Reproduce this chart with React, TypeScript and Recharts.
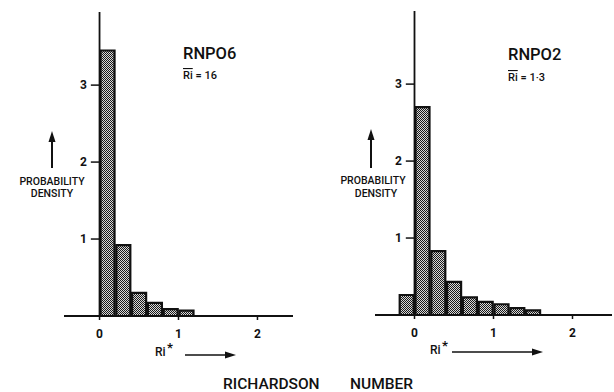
import { BarChart, Bar, XAxis, YAxis, ReferenceLine } from 'recharts';

// Richardson number histograms for the two runs (bins of width 0.2)
const binWidth = 0.2;
const binStartsRNP06 = [0, 0.2, 0.4, 0.6, 0.8, 1.0];
const densityRNP06 = [3.45, 0.92, 0.3, 0.17, 0.09, 0.07];
const binStartsRNP02 = [-0.2, 0, 0.2, 0.4, 0.6, 0.8, 1.0, 1.2, 1.4];
const densityRNP02 = [0.26, 2.7, 0.83, 0.43, 0.23, 0.17, 0.14, 0.09, 0.06];
const xTicks = [0, 1, 2];
const yTicks = [1, 2, 3];
const yMax = 3.95;

const FONT = 'Roboto, "Liberation Sans", sans-serif';

const toRows = (starts: number[], values: number[]) =>
  starts.map((s, i) => ({ mid: +(s + binWidth / 2).toFixed(2), density: values[i] }));

interface PanelProps {
  id: string;
  starts: number[];
  values: number[];
  xDomain: [number, number];
  width: number;
  margin: { top: number; right: number; bottom: number; left: number };
}

function Panel({ id, starts, values, xDomain, width, margin }: PanelProps) {
  const data = toRows(starts, values);
  return (
    <BarChart width={width} height={340} data={data} margin={margin} barCategoryGap={1}>
      <defs>
        <pattern id={id} width={2} height={2} patternUnits="userSpaceOnUse">
          <rect width={2} height={2} fill="#d8d8d8" />
          <rect width={1} height={1} fill="#1a1a1a" />
          <rect x={1} y={1} width={1} height={1} fill="#1a1a1a" />
        </pattern>
      </defs>
      <XAxis
        dataKey="mid"
        type="number"
        domain={xDomain}
        ticks={xTicks}
        allowDataOverflow
        height={20}
        tickSize={4}
        tickMargin={9}
        axisLine={{ stroke: '#111', strokeWidth: 1.8 }}
        tickLine={{ stroke: '#111', strokeWidth: 1.5 }}
        tick={{ fill: '#111', fontSize: 12, fontWeight: 700, fontFamily: FONT }}
      />
      <YAxis hide type="number" domain={[0, yMax]} allowDataOverflow />
      <ReferenceLine x={0} stroke="#111" strokeWidth={1.8} />
      {yTicks.map((t) => (
        <ReferenceLine
          key={t}
          segment={[{ x: -0.11, y: t }, { x: 0, y: t }]}
          stroke="#111"
          strokeWidth={1.5}
          label={{ value: t, position: 'left', offset: 4, fill: '#111', fontSize: 12, fontWeight: 700, fontFamily: FONT }}
        />
      ))}
      <Bar dataKey="density" fill={`url(#${id})`} stroke="#111" strokeWidth={2.2} isAnimationActive={false} />
    </BarChart>
  );
}

function UpArrow({ x, y1, y2 }: { x: number; y1: number; y2: number }) {
  return (
    <g>
      <line x1={x} y1={y1} x2={x} y2={y2 + 8} stroke="#111" strokeWidth={2} />
      <polygon points={`${x},${y2} ${x - 3.5},${y2 + 11} ${x + 3.5},${y2 + 11}`} fill="#111" />
    </g>
  );
}

function RightArrow({ x1, x2, y }: { x1: number; x2: number; y: number }) {
  return (
    <g>
      <line x1={x1} y1={y} x2={x2 - 8} y2={y} stroke="#111" strokeWidth={1.6} />
      <polygon points={`${x2},${y} ${x2 - 11},${y - 3.5} ${x2 - 11},${y + 3.5}`} fill="#111" />
    </g>
  );
}

export default function App() {
  return (
    <div style={{ position: 'absolute', left: 0, top: 0, width: 614, height: 392, background: '#fff', fontFamily: FONT }}>
      <div style={{ position: 'absolute', left: 0, top: 0 }}>
        <Panel
          id="hatch06"
          starts={binStartsRNP06}
          values={densityRNP06}
          xDomain={[-0.45, 2.45]}
          width={300}
          margin={{ top: 12, right: 7, bottom: 4, left: 64 }}
        />
      </div>
      <div style={{ position: 'absolute', left: 310, top: 0 }}>
        <Panel
          id="hatch02"
          starts={binStartsRNP02}
          values={densityRNP02}
          xDomain={[-0.5, 2.5]}
          width={304}
          margin={{ top: 11, right: 2, bottom: 5, left: 65 }}
        />
      </div>
      <svg width={614} height={392} style={{ position: 'absolute', left: 0, top: 0, pointerEvents: 'none' }}>
        <g fill="#111" fontFamily={FONT} fontWeight={500}>
          {/* left panel annotations */}
          <text x={183} y={59} fontSize={16.5}>RNPO6</text>
          <text x={183} y={79} fontSize={11}>
            <tspan style={{ textDecoration: 'overline' }}>Ri</tspan> = 16
          </text>
          <UpArrow x={52} y1={168} y2={131} />
          <text x={52} y={185} fontSize={10.5} textAnchor="middle">PROBABILITY</text>
          <text x={52} y={197} fontSize={10.5} textAnchor="middle">DENSITY</text>
          <text x={155} y={356} fontSize={12}>Ri</text>
          <text x={167} y={352} fontSize={13} fontWeight={700}>*</text>
          <RightArrow x1={185} x2={236} y={355} />

          {/* right panel annotations */}
          <text x={508} y={60} fontSize={16.5}>RNPO2</text>
          <text x={508} y={81} fontSize={11}>
            <tspan style={{ textDecoration: 'overline' }}>Ri</tspan> = 1·3
          </text>
          <UpArrow x={371} y1={168} y2={129} />
          <text x={373} y={184} fontSize={10.5} textAnchor="middle">PROBABILITY</text>
          <text x={376} y={197} fontSize={10.5} textAnchor="middle">DENSITY</text>
          <text x={430} y={354} fontSize={12}>Ri</text>
          <text x={442} y={350} fontSize={13} fontWeight={700}>*</text>
          <RightArrow x1={452} x2={543} y={352} />

          {/* shared x-axis title */}
          <text x={223} y={389} fontSize={15.5}>RICHARDSON</text>
          <text x={350} y={389} fontSize={15.5}>NUMBER</text>
        </g>
      </svg>
    </div>
  );
}
